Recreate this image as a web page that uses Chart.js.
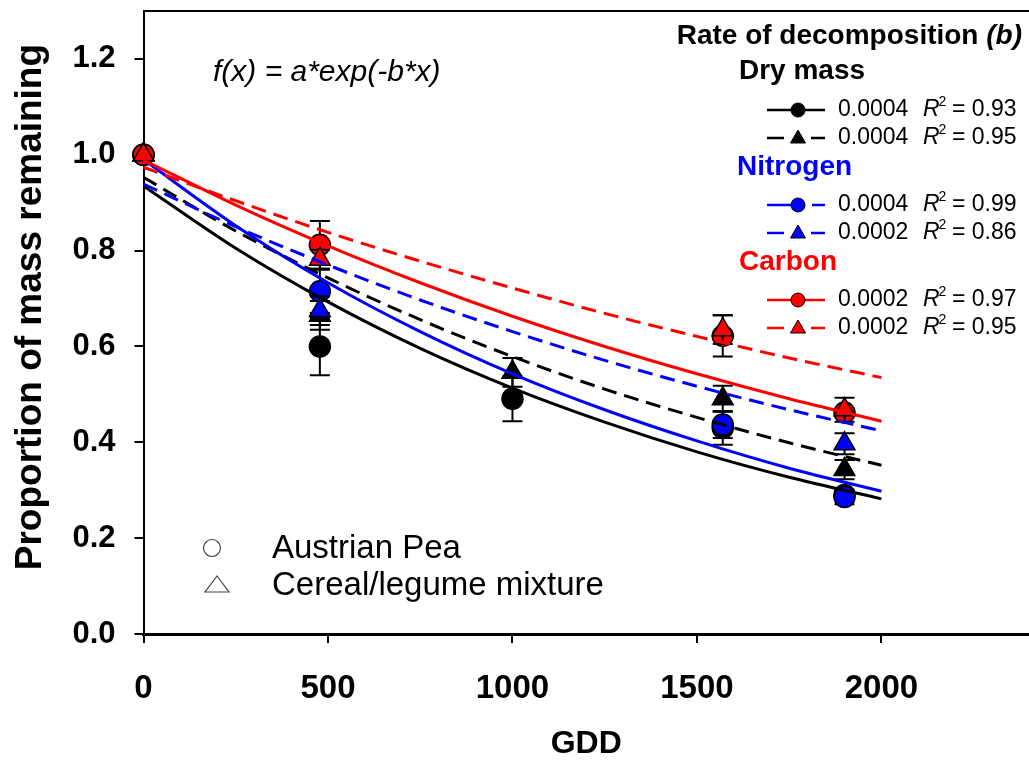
<!DOCTYPE html>
<html>
<head>
<meta charset="utf-8">
<script src="https://cdn.jsdelivr.net/npm/chart.js@4/dist/chart.umd.min.js"></script>
<style>
  body { margin: 0; background: #fff; }
  canvas { display: block; }
</style>
</head>
<body>
<canvas id="decayChart" width="1029" height="760"></canvas>
<script>
// sampling times, growing degree days
const gdd = [0, 478, 1000, 1570, 1900];

// proportion of mass remaining (circles = Austrian pea, triangles = mixture)
const dryPea     = [1.0, 0.600, 0.491, 0.430, 0.290];
const dryPeaErr  = [0, 0.060, 0.047, 0.035, 0.010];
const dryMix     = [1.0, 0.665, 0.546, 0.491, 0.343];
const dryMixErr  = [0, 0.030, 0.030, 0.027, 0.020];
const nPea       = [1.0, 0.715, null, 0.437, 0.286];
const nPeaErr    = [0, 0.045, 0, 0.028, 0.015];
const nMix       = [1.0, 0.675, null, null, 0.397];
const nMixErr    = [0, 0.030, 0, 0, 0.022];
const cPea       = [1.0, 0.812, null, 0.622, 0.462];
const cPeaErr    = [0, 0.050, 0, 0.043, 0.008];
const cMix       = [1.0, 0.782, null, 0.635, 0.468];
const cMixErr    = [0, 0.020, 0, 0.030, 0.025];

// fitted curves read along the GDD axis
const fitX      = [0, 250, 500, 750, 1000, 1250, 1500, 1750, 2000];
const dryPeaFit = [0.935, 0.805, 0.693, 0.596, 0.513, 0.442, 0.380, 0.327, 0.282];
const dryMixFit = [0.953, 0.841, 0.743, 0.656, 0.579, 0.511, 0.452, 0.399, 0.352];
const nPeaFit   = [0.990, 0.852, 0.733, 0.631, 0.543, 0.468, 0.403, 0.346, 0.298];
const nMixFit   = [0.939, 0.850, 0.770, 0.697, 0.631, 0.571, 0.517, 0.468, 0.424];
const cPeaFit   = [0.989, 0.895, 0.810, 0.733, 0.663, 0.600, 0.543, 0.491, 0.444];
const cMixFit   = [0.974, 0.904, 0.838, 0.778, 0.722, 0.669, 0.621, 0.576, 0.535];

// legend text
const rates = ['0.0004', '0.0004', '0.0004', '0.0002', '0.0002', '0.0002'];
const r2    = ['0.93', '0.95', '0.99', '0.86', '0.97', '0.95'];

const xTicks = [0, 500, 1000, 1500, 2000];
const yTicks = [0, 0.2, 0.4, 0.6, 0.8, 1.0, 1.2];

const BLACK = '#000000';
const BLUE = '#0000ff';
const RED = '#ff0000';
const FONT = '"Liberation Sans", Arial, sans-serif';

function pts(xs, ys, errs) {
    let out = [];
    xs.forEach((x, i) => {
        if (ys[i] !== null) out.push({ x: x, y: ys[i], err: errs ? errs[i] : 0 });
    });
    return out;
}

function curve(ys, color, dashed) {
    return {
        data: pts(fitX, ys),
        showLine: true,
        borderColor: color,
        borderWidth: 3,
        borderDash: dashed ? [15, 8] : [],
        pointRadius: 0,
        cubicInterpolationMode: 'monotone',
        clip: false
    };
}

function marks(ys, errs, color, shape) {
    return {
        data: pts(gdd, ys, errs),
        showLine: false,
        pointStyle: shape,
        pointRadius: shape === 'triangle' ? 12 : 10.5,
        backgroundColor: color,
        borderColor: BLACK,
        borderWidth: 1.5,
        errorBars: true,
        clip: false
    };
}

// error bars go under each marker set
const errorBars = {
    id: 'errorBars',
    beforeDatasetDraw(chart, args) {
        const ds = chart.data.datasets[args.index];
        if (!ds.errorBars) return;
        const yScale = chart.scales.y;
        const c = chart.ctx;
        c.save();
        c.strokeStyle = BLACK;
        c.lineWidth = 2;
        args.meta.data.forEach((pt, i) => {
            const raw = ds.data[i];
            if (!raw.err) return;
            const top = yScale.getPixelForValue(raw.y + raw.err);
            const bot = yScale.getPixelForValue(raw.y - raw.err);
            c.beginPath();
            c.moveTo(pt.x, top); c.lineTo(pt.x, bot);
            c.moveTo(pt.x - 10, top); c.lineTo(pt.x + 10, top);
            c.moveTo(pt.x - 10, bot); c.lineTo(pt.x + 10, bot);
            c.stroke();
        });
        c.restore();
    }
};

function sampleMarker(c, x, y, color, shape) {
    c.save();
    c.setLineDash([]);
    c.fillStyle = color;
    c.strokeStyle = BLACK;
    c.lineWidth = 1;
    c.beginPath();
    if (shape === 'circle') {
        c.arc(x, y, 7, 0, Math.PI * 2);
    } else {
        c.moveTo(x, y - 8);
        c.lineTo(x + 7.5, y + 5);
        c.lineTo(x - 7.5, y + 5);
        c.closePath();
    }
    c.fill();
    c.stroke();
    c.restore();
}

function legendRow(c, y, color, style, shape, rate, rsq) {
    c.save();
    c.strokeStyle = color;
    c.lineWidth = 2.5;
    c.beginPath();
    if (style === 'solid') {
        c.moveTo(767, y); c.lineTo(825, y);
    } else if (style === 'half') {
        c.moveTo(767, y); c.lineTo(798, y);
        c.moveTo(812, y); c.lineTo(825, y);
    } else {
        c.moveTo(767, y); c.lineTo(784, y);
        c.moveTo(811, y); c.lineTo(825, y);
    }
    c.stroke();
    sampleMarker(c, 798, y, color, shape);

    c.fillStyle = BLACK;
    c.textBaseline = 'middle';
    c.textAlign = 'left';
    c.font = '23px ' + FONT;
    c.fillText(rate, 838, y);
    c.font = 'italic 23px ' + FONT;
    c.fillText('R', 923, y);
    const rw = c.measureText('R').width;
    c.font = '14px ' + FONT;
    c.fillText('2', 923 + rw - 1, y - 8);
    c.font = '23px ' + FONT;
    c.fillText('= ' + rsq, 952, y);
    c.restore();
}

const notes = {
    id: 'notes',
    afterDraw(chart) {
        const c = chart.ctx;
        const area = chart.chartArea;
        c.save();

        // top frame line
        c.strokeStyle = BLACK;
        c.lineWidth = 2;
        c.beginPath();
        c.moveTo(area.left, area.top);
        c.lineTo(area.right, area.top);
        c.stroke();

        // model
        c.fillStyle = BLACK;
        c.textBaseline = 'middle';
        c.textAlign = 'left';
        c.font = 'italic 30px ' + FONT;
        c.fillText('f(x) = a*exp(-b*x)', 213, 73);

        // legend heading
        c.textAlign = 'right';
        c.font = 'bold italic 28px ' + FONT;
        c.fillText('(b)', 1022, 36);
        const bw = c.measureText('(b)').width;
        c.font = 'bold 28px ' + FONT;
        c.fillText('Rate of decomposition ', 1022 - bw, 36);

        c.textAlign = 'left';
        c.fillText('Dry mass', 739, 71);
        c.fillStyle = BLUE;
        c.fillText('Nitrogen', 737, 167);
        c.fillStyle = RED;
        c.fillText('Carbon', 739, 262);

        legendRow(c, 110, BLACK, 'solid', 'circle', rates[0], r2[0]);
        legendRow(c, 138, BLACK, 'dash', 'triangle', rates[1], r2[1]);
        legendRow(c, 205, BLUE, 'half', 'circle', rates[2], r2[2]);
        legendRow(c, 233, BLUE, 'dash', 'triangle', rates[3], r2[3]);
        legendRow(c, 300, RED, 'solid', 'circle', rates[4], r2[4]);
        legendRow(c, 328, RED, 'dash', 'triangle', rates[5], r2[5]);

        // symbol key
        c.strokeStyle = '#444';
        c.lineWidth = 1.2;
        c.beginPath();
        c.arc(212, 548, 8.5, 0, Math.PI * 2);
        c.stroke();
        c.beginPath();
        c.moveTo(217, 576);
        c.lineTo(229, 592);
        c.lineTo(205, 592);
        c.closePath();
        c.stroke();

        c.fillStyle = BLACK;
        c.font = '33px ' + FONT;
        c.fillText('Austrian Pea', 272, 549);
        c.fillText('Cereal/legume mixture', 272, 586);
        c.restore();
    }
};

const ctx = document.getElementById('decayChart');

new Chart(ctx, {
    type: 'scatter',
    data: {
        datasets: [
            curve(cMixFit, RED, true),
            curve(cPeaFit, RED, false),
            curve(nMixFit, BLUE, true),
            curve(nPeaFit, BLUE, false),
            curve(dryMixFit, BLACK, true),
            curve(dryPeaFit, BLACK, false),
            marks(cMix, cMixErr, RED, 'triangle'),
            marks(cPea, cPeaErr, RED, 'circle'),
            marks(nMix, nMixErr, BLUE, 'triangle'),
            marks(nPea, nPeaErr, BLUE, 'circle'),
            marks(dryMix, dryMixErr, BLACK, 'triangle'),
            marks(dryPea, dryPeaErr, BLACK, 'circle')
        ]
    },
    options: {
        responsive: false,
        animation: false,
        devicePixelRatio: 1,
        layout: { autoPadding: false, padding: { top: 11, right: 0, bottom: 0, left: 0 } },
        plugins: {
            legend: { display: false },
            tooltip: { enabled: false }
        },
        scales: {
            x: {
                type: 'linear',
                min: 0,
                max: 2400,
                afterBuildTicks: s => { s.ticks = xTicks.map(v => ({ value: v })); },
                afterFit: s => {
                    s.height = 126;
                    s.paddingLeft = 0;
                    s.paddingRight = 0;
                },
                grid: { drawOnChartArea: false, tickLength: 9, color: BLACK, lineWidth: 2 },
                border: { color: BLACK, width: 3 },
                ticks: {
                    color: BLACK,
                    padding: 26,
                    maxRotation: 0,
                    autoSkip: false,
                    callback: v => String(v),
                    font: { family: FONT, size: 33, weight: 'bold' }
                },
                title: {
                    display: true,
                    text: 'GDD',
                    color: BLACK,
                    padding: 0,
                    font: { family: FONT, size: 32, weight: 'bold', lineHeight: 1 }
                }
            },
            y: {
                min: 0,
                max: 1.3,
                afterBuildTicks: s => { s.ticks = yTicks.map(v => ({ value: v })); },
                afterFit: s => {
                    s.width = 143.5;
                    s.paddingTop = 0;
                    s.paddingBottom = 0;
                },
                grid: { drawOnChartArea: false, tickLength: 9, color: BLACK, lineWidth: 2 },
                border: { color: BLACK, width: 2 },
                ticks: {
                    color: BLACK,
                    padding: 19,
                    callback: v => v.toFixed(1),
                    font: { family: FONT, size: 31, weight: 'bold' }
                },
                title: {
                    display: true,
                    // leading spaces nudge the centred title toward the top
                    text: '   Proportion of mass remaining',
                    color: BLACK,
                    padding: { top: 12, bottom: 0 },
                    font: { family: FONT, size: 37, weight: 'bold', lineHeight: 1 }
                }
            }
        }
    },
    plugins: [errorBars, notes]
});
</script>
</body>
</html>
